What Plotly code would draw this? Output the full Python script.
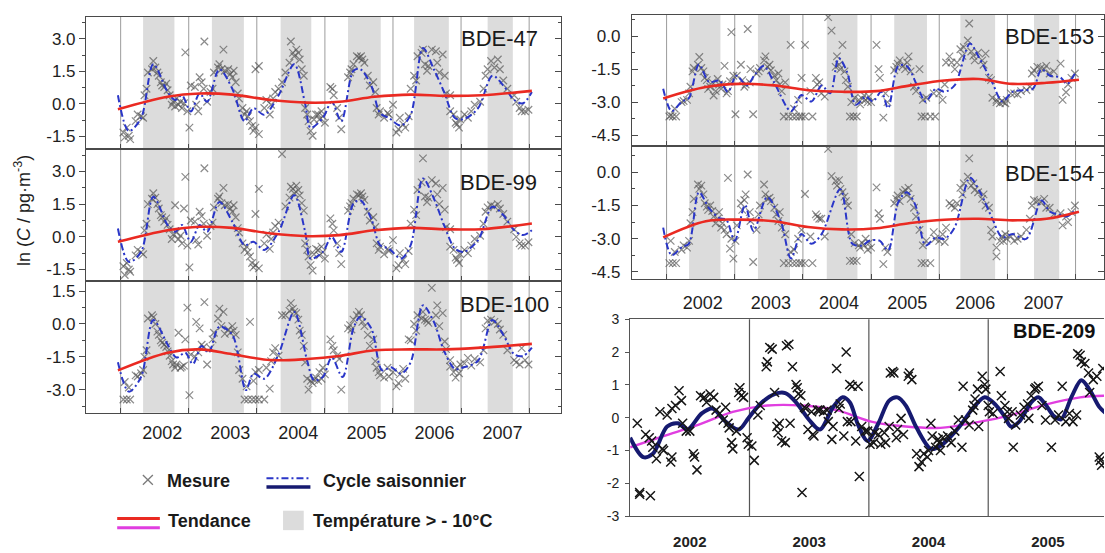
import plotly.graph_objects as go

W, H = 1105, 553

# ---------------------------------------------------------------- data
YEARS = [2002, 2003, 2004, 2005, 2006, 2007]
YEAR_LINES = [2002, 2003, 2004, 2005, 2006, 2007, 2008]
WARM_START = [2002.33, 2003.34, 2004.35, 2005.34, 2006.31, 2007.39]
WARM_END = [2002.79, 2003.81, 2004.80, 2005.82, 2006.82, 2007.76]

YEARS_209 = [2002, 2003, 2004, 2005]
YEAR_LINES_209 = [2003, 2004, 2005]

# weekly air samples (decimal year), shared by BDE-47/99/100/153/154
T_SAMPLE = [
    2002.04, 2002.06, 2002.09, 2002.12, 2002.14, 2002.22, 2002.25, 2002.30, 2002.33, 2002.35,
    2002.38, 2002.40, 2002.46, 2002.48, 2002.51, 2002.54, 2002.56, 2002.59, 2002.61, 2002.64,
    2002.67, 2002.69, 2002.72, 2002.75, 2002.77, 2002.80, 2002.82, 2002.85, 2002.88, 2002.90,
    2002.93, 2002.95, 2002.98, 2003.01, 2003.03, 2003.09, 2003.11, 2003.14, 2003.16, 2003.19,
    2003.22, 2003.23, 2003.27, 2003.32, 2003.35, 2003.37, 2003.43, 2003.45, 2003.48, 2003.51,
    2003.53, 2003.58, 2003.61, 2003.64, 2003.66, 2003.69, 2003.72, 2003.74, 2003.79, 2003.82,
    2003.85, 2003.87, 2003.90, 2003.93, 2003.95, 2003.98, 2003.98, 2004.03, 2004.03, 2004.11,
    2004.14, 2004.19, 2004.21, 2004.24, 2004.27, 2004.32, 2004.37, 2004.42, 2004.48, 2004.50,
    2004.53, 2004.55, 2004.58, 2004.61, 2004.63, 2004.66, 2004.69, 2004.71, 2004.74, 2004.76,
    2004.79, 2004.82, 2004.84, 2004.87, 2004.90, 2004.92, 2004.95, 2004.97, 2005.00, 2005.08,
    2005.11, 2005.13, 2005.18, 2005.21, 2005.24, 2005.34, 2005.37, 2005.39, 2005.42, 2005.47,
    2005.50, 2005.53, 2005.55, 2005.58, 2005.63, 2005.66, 2005.71, 2005.74, 2005.76, 2005.79,
    2005.81, 2005.87, 2005.92, 2005.94, 2006.00, 2006.05, 2006.08, 2006.10, 2006.15, 2006.18,
    2006.23, 2006.26, 2006.31, 2006.34, 2006.36, 2006.42, 2006.44, 2006.47, 2006.50, 2006.52,
    2006.57, 2006.63, 2006.65, 2006.68, 2006.73, 2006.76, 2006.78, 2006.84, 2006.84, 2006.89,
    2006.92, 2006.94, 2006.97, 2006.99, 2007.05, 2007.10, 2007.15, 2007.20, 2007.28, 2007.33,
    2007.36, 2007.39, 2007.44, 2007.49, 2007.54, 2007.57, 2007.62, 2007.68, 2007.78, 2007.81,
    2007.86, 2007.89, 2007.94, 2007.99,
]
V_BDE47 = [
    -1.32, -1.54, -1.09, -1.47, -1.62, -0.79, -0.49, -0.57, -0.64, 0.40,
    0.70, 1.45, 1.60, 1.98, 1.68, 1.45, 1.30, 1.00, 0.85, 0.78,
    0.93, 0.63, 0.40, -0.04, 0.10, -0.12, 0.25, -0.04, 0.10, -0.19,
    0.03, 2.38, -0.34, -1.09, 0.85, 0.78, -0.04, -0.34, 1.23, 1.00,
    0.70, 2.88, 0.10, 0.55, 0.70, 1.45, 1.68, 1.83, 1.60, 2.50,
    1.53, 1.60, 1.38, 1.23, 1.53, 1.00, 0.48, 0.25, -0.19, -0.49,
    -0.34, -0.57, -0.79, -1.02, -1.24, 1.60, -1.09, 1.75, -1.39, -0.19,
    0.18, -0.49, -0.04, 0.25, 0.55, 0.70, 1.00, 1.45, 1.90, 2.88,
    2.35, 2.20, 2.50, 2.35, 2.05, 1.60, 1.30, -0.19, -0.49, -0.79,
    -1.24, -1.47, -0.72, -0.49, -0.49, -0.72, -0.34, -0.57, -0.87, 0.78,
    0.70, 0.40, -0.19, -0.64, -1.17, 1.23, 1.45, 1.60, 1.83, 2.20,
    2.13, 2.20, 2.05, 1.90, 1.30, 0.85, 1.00, 0.55, -0.19, -0.49,
    -0.34, -0.64, -0.42, -0.49, -0.04, -1.32, -1.17, -0.64, -0.94, -1.09,
    -0.57, 0.70, 1.30, 1.08, 2.20, 2.35, 2.50, 1.83, 1.53, 1.75,
    2.50, 2.43, 1.90, 1.45, 2.28, 1.30, 0.48, 0.40, -0.34, -0.49,
    -0.87, -0.94, -1.09, -0.72, -0.49, -0.64, -0.34, -0.04, 0.10, 0.70,
    1.30, 1.60, 1.98, 1.68, 2.05, 1.60, 1.08, 0.70, 0.40, 0.10,
    -0.19, -0.34, -0.34, -0.27,
]
V_BDE99 = [
    -1.35, -1.75, -1.2, -1.5, -1.6, -0.85, -0.6, -0.7, -0.8, 0.3,
    0.6, 1.5, 1.75, 2.0, 1.8, 1.5, 1.3, 1.0, 0.9, 0.7,
    0.85, 0.55, 0.35, -0.1, 0.1, 1.45, 0.2, -0.1, 0.05, -0.3,
    1.3, 2.75, -0.4, -1.4, 0.75, 0.7, -0.15, -0.35, 1.15, 0.95,
    0.6, 3.15, 0.05, 0.5, 0.65, 1.35, 1.75, 1.85, 1.55, 2.25,
    1.45, 1.5, 1.3, 1.15, 1.45, 0.9, 0.4, 0.2, -0.3, -0.6,
    -0.45, -0.7, -0.9, -1.2, -1.4, 1.05, -1.3, 2.2, -1.45, -0.3,
    0.1, -0.55, -0.1, 0.2, 0.5, 0.65, 3.8, 1.4, 1.8, 2.3,
    2.2, 2.0, 2.35, 2.15, 1.9, 1.55, 1.2, -0.3, -0.6, -0.9,
    -1.3, -1.55, -0.8, -0.55, -0.6, -0.85, -0.45, -0.7, -1.0, 0.85,
    0.6, 0.3, -0.3, -0.75, -1.25, 1.2, 1.4, 1.55, 1.75, 1.95,
    1.9, 2.0, 1.85, 1.7, 1.15, 0.75, 0.9, 0.45, -0.3, -0.6,
    -0.45, -0.8, -0.55, -0.65, -0.15, -1.45, -1.3, -0.75, -1.05, -1.25,
    -0.65, 0.6, 1.25, 1.0, 2.15, 2.5, 3.6, 1.85, 1.6, 1.8,
    2.6, 2.45, 1.95, 1.5, 2.25, 1.25, 0.45, 0.35, -0.45, -0.6,
    -0.95, -1.05, -1.2, -0.8, -0.6, -0.75, -0.4, -0.1, 0.05, 0.6,
    1.15, 1.35, 1.45, 1.4, 1.5, 1.3, 1.05, 0.7, 0.35, 0.0,
    -0.3, -0.4, -0.4, -0.25,
]
V_BDE100 = [
    -3.45, -2.65, -3.45, -2.9, -3.45, -2.35, -2.4, -2.25, -2.1, -1.5,
    -1.2, 0.25, 0.4, 0.3, 0.0, -0.35, -0.5, -0.75, -0.85, -0.95,
    -1.05, -1.25, -1.45, -1.7, -1.85, -2.0, -1.85, -0.4, -2.0, -1.95,
    -1.9, -0.7, 0.75, -3.25, -1.4, -1.5, 0.1, -1.3, -0.2, -0.95,
    -1.05, 1.0, -1.85, -1.1, -0.7, -0.4, 0.25, 0.7, -0.1, 0.55,
    -0.45, -0.25, -0.4, -0.1, -0.3, -0.5, -1.3, -2.1, -2.5, -3.45,
    -2.85, -3.45, 0.1, -3.45, -2.6, -3.45, -2.2, -3.45, -2.1, -3.45,
    -2.0, -2.95, -1.7, -1.3, -1.1, -1.45, 0.4, 0.4, 0.6, 0.95,
    0.7, 0.55, 0.5, 0.2, -0.3, -0.5, -1.0, -1.75, -2.5, -3.0,
    -2.6, -2.7, -2.55, -2.45, -2.6, -2.2, -2.5, -2.0, -2.3, -0.7,
    -1.0, -1.2, -1.45, -1.6, -3.0, -0.2, -0.05, -0.25, 0.2, 0.4,
    0.55, 0.4, 0.1, -0.1, -0.5, -1.0, -0.7, -1.7, -2.0, -2.2,
    -2.35, -2.45, -2.0, -2.4, -2.2, -2.85, -2.7, -2.3, -2.05, -2.5,
    -0.7, -0.75, 0.0, -0.3, 0.4, 0.25, 0.55, 0.2, 0.15, 0.05,
    1.65, 0.4, 0.85, -0.1, 0.5, -0.8, -1.15, -1.65, -1.95, -2.2,
    -2.45, -2.0, -2.25, -1.85, -1.8, -1.55, -1.9, -1.6, -1.75, -1.2,
    -0.2, 0.15, 0.2, 0.1, 0.0, -0.25, -0.5, -1.2, -1.65, -1.75,
    -1.85, -1.1, -1.65, -1.85,
]
V_BDE153 = [
    -3.65, -3.6, -3.65, -3.3, -3.65, -3.0, -2.95, -2.9, -2.6, -2.3,
    -1.6, -1.45, -1.3, -0.95, -1.45, -1.6, -1.9, -2.0, -2.4, -2.3,
    -2.1, -2.7, -2.5, -1.95, -2.2, -2.4, -2.2, -1.35, -2.6, -2.5,
    -2.05, 0.18, -1.8, -3.55, -1.8, -1.3, -2.0, -2.3, -2.2, 0.32,
    -2.1, -1.5, -3.55, -1.7, -1.6, -1.45, -1.1, -0.92, -1.4, -1.3,
    -1.55, -1.8, -2.0, -1.7, -2.2, -2.5, -3.65, -2.1, -3.65, -0.4,
    -3.65, -3.3, -3.65, -2.9, -3.65, -1.9, -3.65, -0.4, -3.65, -2.5,
    -3.65, -1.9, -2.2, -2.1, -2.6, -2.75, 0.86, 0.25, -1.4, -0.92,
    -1.3, -1.5, -0.4, -1.6, -2.0, -2.3, -3.65, -3.0, -3.65, -2.8,
    -3.65, -2.9, -3.1, -2.85, -2.7, -2.9, -3.0, -2.75, -3.0, -0.4,
    -1.5, -1.9, -3.7, -2.6, -3.0, -1.55, -1.4, -1.25, -1.1, -1.35,
    -1.5, -1.2, -0.92, -1.6, -2.3, -2.5, -1.5, -3.65, -2.9, -3.65,
    -2.8, -3.65, -2.6, -3.65, -2.6, -2.9, -2.2, -1.2, -0.92, -1.2,
    -1.5, -1.2, -0.6, -0.9, -0.5, -0.2, 0.57, -0.7, -0.9, -1.1,
    -0.75, -1.1, -1.3, -0.8, -1.9, -2.0, -2.8, -2.9, -3.0, -3.05,
    -2.95, -3.0, -3.05, -2.9, -2.6, -2.6, -2.65, -2.5, -2.45, -2.3,
    -1.7, -1.55, -1.4, -1.45, -1.5, -1.35, -1.7, -1.6, -1.25, -2.9,
    -2.55, -2.2, -1.9, -1.7,
]
V_BDE154 = [
    -4.1, -3.1, -4.1, -3.6, -4.1, -3.5, -3.3, -3.4, -3.1, -2.3,
    -1.8, -1.2, -0.55, -0.75, -0.6, -1.0, -1.4, -1.55, -1.7, -1.5,
    -1.75, -2.0, -2.3, -2.1, -1.8, -2.5, -2.3, -2.6, -2.8, -0.25,
    -3.45, -3.0, -3.9, -3.1, -2.4, -1.4, -1.7, -1.25, -1.0, -0.1,
    -1.8, -2.2, -4.05, -2.6, -1.9, -1.5, -0.55, -1.0, -1.2, -1.15,
    -1.3, -1.6, -1.9, -2.2, -1.8, -2.5, -4.1, -2.8, -4.1, -3.6,
    -4.1, -3.5, -4.1, -3.0, -4.1, -2.6, -4.1, -0.98, -4.1, -2.9,
    -4.1, -1.9, -2.0, -2.1, -2.1, -2.9, 1.06, -0.17, -0.4, -0.6,
    -0.35, -0.75, -0.9, -1.1, -1.3, -1.5, -4.0, -2.8, -4.0, -3.2,
    -4.0, -3.3, -3.4, -3.2, -3.3, -3.0, -3.5, -3.2, -3.4, -0.68,
    -1.85, -2.1, -4.15, -3.4, -3.6, -1.4, -1.2, -1.05, -1.3, -0.9,
    -0.8, -1.0, -0.7, -1.2, -1.6, -2.0, -2.6, -4.1, -3.3, -4.1,
    -3.1, -4.1, -2.7, -3.0, -3.1, -2.8, -3.15, -2.5, -1.4, -1.5,
    -1.6, -1.4, -0.7, -1.0, -0.5, -0.2, 0.63, -0.6, -0.5, -0.8,
    -0.9, -1.2, -1.0, -1.5, -1.6, -2.6, -2.9, -3.4, -3.8, -3.1,
    -2.9, -3.1, -2.8, -3.0, -2.9, -3.1, -3.0, -2.9, -2.6, -2.1,
    -1.5, -1.25, -1.3, -1.35, -1.2, -1.6, -1.6, -1.9, -1.85, -2.4,
    -2.0, -2.25, -1.8, -1.5,
]

# seasonal cycle (knots of the fitted curve)
CYC_L_T = [
    2001.96, 2002.12, 2002.30, 2002.48, 2002.69, 2002.80, 2002.90, 2003.03, 2003.16, 2003.27,
    2003.45, 2003.64, 2003.82, 2003.95, 2004.11, 2004.32, 2004.55, 2004.71, 2004.79, 2004.97,
    2005.10, 2005.24, 2005.42, 2005.52, 2005.68, 2005.81, 2005.94, 2006.12, 2006.26, 2006.44,
    2006.60, 2006.75, 2006.91, 2007.04, 2007.25, 2007.46, 2007.62, 2007.78, 2007.91, 2008.04,
]
CYC47_V = [
    0.4, -1.25, -0.65, 1.83, 0.55, 0.18, 0.4, -0.35, 0.48, 0.1,
    1.6, 0.7, -0.8, -0.2, -0.5, 0.4, 1.83, 0.0, -1.1, -0.65,
    0.1, -0.8, 1.53, 1.6, 0.85, -0.42, -0.65, -1.0, -0.5, 2.58,
    1.6, 0.55, -0.65, -0.7, -0.2, 1.3, 0.85, 0.18, 0.03, 0.55,
]
CYC99_V = [
    0.38, -1.15, -0.69, 1.84, 0.54, 0.23, 0.54, -0.23, 0.54, 0.23,
    1.6, 0.69, -0.38, -0.23, -0.6, 0.23, 1.91, 0.23, -1.0, -0.69,
    0.0, -0.69, 1.53, 1.68, 0.84, -0.38, -0.54, -1.0, -0.38, 2.68,
    1.76, 0.54, -0.54, -0.69, -0.15, 1.38, 1.0, 0.3, 0.08, 0.3,
]
CYC100_T = [
    2001.96, 2002.12, 2002.30, 2002.48, 2002.69, 2002.82, 2002.95, 2003.06, 2003.19, 2003.29,
    2003.45, 2003.64, 2003.84, 2003.95, 2004.11, 2004.32, 2004.55, 2004.74, 2004.84, 2004.97,
    2005.10, 2005.26, 2005.42, 2005.52, 2005.68, 2005.84, 2005.97, 2006.12, 2006.26, 2006.44,
    2006.60, 2006.75, 2006.91, 2007.04, 2007.25, 2007.46, 2007.62, 2007.78, 2007.91, 2008.04,
]
CYC100_V = [
    -1.75, -3.09, -2.42, 0.18, -0.94, -1.53, -1.31, -1.83, -1.01, -1.31,
    -0.12, -0.49, -3.02, -2.27, -2.5, -1.38, 0.55, -1.68, -2.57, -2.42,
    -1.53, -2.42, -0.19, 0.33, -0.19, -2.12, -1.98, -2.27, -1.75, 0.85,
    0.1, -1.23, -2.05, -1.98, -1.68, 0.18, -0.49, -1.38, -1.46, -1.08,
]
CYC153_T = [
    2001.95, 2002.075, 2002.225, 2002.325, 2002.475, 2002.625, 2002.775, 2002.90, 2003.025, 2003.175,
    2003.30, 2003.425, 2003.575, 2003.825, 2003.975, 2004.125, 2004.275, 2004.40, 2004.525, 2004.65,
    2004.775, 2004.925, 2005.025, 2005.15, 2005.25, 2005.40, 2005.525, 2005.675, 2005.80, 2005.95,
    2006.075, 2006.225, 2006.45, 2006.575, 2006.775, 2006.925, 2007.075, 2007.225, 2007.375, 2007.50,
    2007.625, 2007.775, 2007.875, 2008.00,
]
CYC153_V = [
    -2.39, -3.41, -2.97, -2.83, -1.29, -2.09, -2.02, -2.53, -1.8, -2.24,
    -1.73, -1.36, -2.09, -3.41, -2.68, -2.97, -2.24, -2.6, -1.0, -1.65,
    -3.12, -2.75, -2.97, -2.53, -3.27, -1.36, -1.36, -2.24, -2.97, -2.39,
    -2.53, -2.24, -0.34, -0.92, -2.09, -2.97, -2.53, -2.46, -2.39, -1.51,
    -1.8, -1.87, -2.17, -1.65,
]
CYC154_T = [
    2001.95, 2002.075, 2002.225, 2002.325, 2002.475, 2002.625, 2002.775, 2002.875, 2003.00, 2003.15,
    2003.275, 2003.475, 2003.675, 2003.825, 2003.975, 2004.125, 2004.275, 2004.55, 2004.725, 2004.875,
    2004.975, 2005.125, 2005.25, 2005.40, 2005.525, 2005.65, 2005.80, 2005.95, 2006.075, 2006.225,
    2006.45, 2006.60, 2006.775, 2006.925, 2007.075, 2007.275, 2007.50, 2007.625, 2007.775, 2007.875,
    2008.00,
]
CYC154_V = [
    -2.5, -3.74, -3.38, -3.23, -0.9, -1.63, -2.07, -2.14, -3.09, -1.48,
    -2.65, -1.12, -2.21, -3.89, -2.79, -3.23, -2.79, -0.76, -3.23, -3.3,
    -3.09, -3.09, -3.52, -1.34, -0.9, -1.48, -3.3, -2.94, -3.01, -2.5,
    -0.25, -0.9, -2.07, -2.94, -2.79, -3.01, -1.27, -1.78, -1.92, -1.99,
    -1.7,
]

# long-term trend (knots)
TR_L_T = [2001.96, 2002.69, 2003.16, 2003.64, 2004.21, 2004.74, 2005.21, 2005.73, 2006.26, 2006.78, 2007.30, 2008.04]
TR47_V = [-0.25, 0.33, 0.48, 0.43, 0.18, 0.06, 0.10, 0.33, 0.43, 0.37, 0.40, 0.60]
TR99_V = [-0.23, 0.30, 0.46, 0.41, 0.15, 0.03, 0.08, 0.30, 0.41, 0.35, 0.35, 0.61]
TR100_V = [-2.12, -1.31, -1.16, -1.38, -1.65, -1.60, -1.46, -1.20, -1.16, -1.16, -1.08, -0.91]
TR_R_T = [2001.95, 2002.575, 2003.075, 2003.575, 2004.075, 2004.575, 2005.075, 2005.575, 2006.075, 2006.575, 2007.075, 2007.575, 2008.05]
TR153_V = [-2.83, -2.31, -2.17, -2.24, -2.46, -2.53, -2.50, -2.24, -2.02, -1.95, -2.17, -2.12, -1.98]
TR154_V = [-2.94, -2.21, -2.14, -2.21, -2.47, -2.58, -2.53, -2.29, -2.14, -2.10, -2.17, -2.10, -1.78]

# BDE-209
T_209 = [
    2002.06, 2002.08, 2002.08, 2002.13, 2002.16, 2002.17, 2002.18, 2002.19, 2002.22, 2002.25,
    2002.27, 2002.28, 2002.31, 2002.34, 2002.35, 2002.35, 2002.38, 2002.41, 2002.43, 2002.44,
    2002.47, 2002.50, 2002.53, 2002.54, 2002.56, 2002.59, 2002.62, 2002.64, 2002.67, 2002.70,
    2002.72, 2002.75, 2002.78, 2002.80, 2002.82, 2002.83, 2002.85, 2002.86, 2002.89, 2002.91,
    2002.92, 2002.93, 2002.95, 2002.98, 2002.99, 2003.02, 2003.04, 2003.07, 2003.09, 2003.14,
    2003.15, 2003.17, 2003.19, 2003.21, 2003.23, 2003.24, 2003.25, 2003.27, 2003.30, 2003.31,
    2003.33, 2003.34, 2003.36, 2003.39, 2003.40, 2003.41, 2003.43, 2003.44, 2003.46, 2003.47,
    2003.49, 2003.52, 2003.53, 2003.54, 2003.57, 2003.59, 2003.62, 2003.65, 2003.66, 2003.69,
    2003.70, 2003.73, 2003.75, 2003.76, 2003.79, 2003.81, 2003.82, 2003.84, 2003.85, 2003.86,
    2003.89, 2003.91, 2003.92, 2003.94, 2003.97, 2003.99, 2004.01, 2004.04, 2004.05, 2004.08,
    2004.10, 2004.13, 2004.14, 2004.17, 2004.18, 2004.20, 2004.21, 2004.23, 2004.24, 2004.27,
    2004.29, 2004.33, 2004.34, 2004.36, 2004.40, 2004.42, 2004.44, 2004.46, 2004.49, 2004.50,
    2004.52, 2004.53, 2004.56, 2004.58, 2004.59, 2004.60, 2004.62, 2004.66, 2004.69, 2004.72,
    2004.75, 2004.78, 2004.79, 2004.81, 2004.84, 2004.87, 2004.88, 2004.89, 2004.91, 2004.92,
    2004.95, 2004.97, 2004.98, 2005.00, 2005.01, 2005.04, 2005.10, 2005.11, 2005.14, 2005.16,
    2005.17, 2005.20, 2005.21, 2005.23, 2005.27, 2005.30, 2005.33, 2005.34, 2005.36, 2005.39,
    2005.40, 2005.42, 2005.45, 2005.48, 2005.53, 2005.56, 2005.59, 2005.62, 2005.65, 2005.68,
    2005.71, 2005.74, 2005.75, 2005.77, 2005.78, 2005.81, 2005.84, 2005.85, 2005.88, 2005.91,
    2005.93, 2005.94, 2005.95, 2005.96,
]
V_209 = [
    -0.17, -2.28, -2.33, -0.51, -0.61, -2.38, -0.71, -0.90, -1.25, 0.18,
    -0.95, -1.00, 0.08, -1.35, -1.20, 0.28, 0.37, 0.82, 0.52, -0.17,
    -0.41, -0.41, -1.10, -1.20, -1.59, 0.67, 0.62, 0.47, 0.72, 0.62,
    0.23, 0.13, -0.07, 0.32, -0.17, -0.31, -0.76, -0.95, -0.41, 0.77,
    0.91, 0.67, 0.62, -0.61, -0.81, -0.86, -1.30, 0.08, 0.37, 1.55,
    1.70, 2.14, 2.09, 0.77, -0.27, -0.46, -0.17, -0.71, -0.76, 2.19,
    2.24, -0.17, 1.55, 1.01, 0.91, 0.72, 0.67, -2.28, 0.32, 0.28,
    -0.36, 0.18, -0.51, -0.56, 0.23, 0.23, 0.18, 0.23, -0.12, -0.66,
    -0.27, 1.50, 0.28, 0.42, -0.56, 2.00, -0.12, 1.01, -0.12, 0.96,
    -0.71, 0.96, -1.79, -0.27, -0.41, -0.41, -0.81, -0.76, -0.46, -0.51,
    -0.81, -0.46, -0.76, -0.27, 1.36, 1.41, 1.36, -0.61, -0.36, -0.02,
    -0.51, 1.26, 1.36, 1.16, -1.10, -1.49, -1.35, -1.10, -1.20, -1.00,
    -0.17, -0.56, -0.90, -0.66, -0.76, -1.00, -0.61, -0.56, -0.76, -0.41,
    -0.07, -0.90, 0.96, -0.07, -0.22, 0.23, 0.37, 0.57, 0.87, -0.27,
    1.26, 1.01, 0.87, 0.37, 0.18, 0.13, 1.41, 0.67, 0.37, 0.18,
    -0.02, 0.18, -0.90, -0.22, 0.08, 0.32, 0.42, -0.02, 0.67, 0.87,
    0.91, 0.96, 0.37, -0.07, -0.90, -0.07, 0.08, 0.96, -0.12, 0.13,
    -0.12, 0.08, 1.95, 1.90, 1.70, 1.65, 1.36, 0.77, 1.16, 1.26,
    -1.20, -1.30, -1.45, 1.50,
]
CYC209_T = [
    2002.00, 2002.11, 2002.19, 2002.31, 2002.40, 2002.48, 2002.60, 2002.69, 2002.80, 2002.91,
    2002.99, 2003.09, 2003.21, 2003.30, 2003.39, 2003.50, 2003.59, 2003.70, 2003.78, 2003.84,
    2003.91, 2003.99, 2004.08, 2004.17, 2004.24, 2004.31, 2004.40, 2004.52, 2004.60, 2004.75,
    2004.87, 2004.97, 2005.04, 2005.13, 2005.19, 2005.26, 2005.36, 2005.42, 2005.48, 2005.55,
    2005.61, 2005.70, 2005.78, 2005.85, 2005.93, 2005.98,
]
CYC209_V = [
    -0.61, -1.20, -1.10, -0.27, -0.17, -0.36, 0.13, 0.28, -0.12, -0.36,
    -0.02, 0.42, 0.72, 0.75, 0.47, -0.07, -0.36, 0.32, 0.62, 0.47,
    -0.22, -0.71, -0.17, 0.52, 0.62, 0.37, -0.31, -0.95, -0.86, -0.31,
    0.28, 0.62, 0.47, 0.08, -0.27, -0.12, 0.47, 0.62, 0.40, 0.05,
    -0.05, 0.65, 1.14, 0.85, 0.33, 0.15,
]
TR209_T = [2002.00, 2002.28, 2002.57, 2002.86, 2003.15, 2003.44, 2003.73, 2004.02, 2004.31, 2004.60, 2004.89, 2005.19, 2005.48, 2005.77, 2005.98]
TR209_V = [-0.90, -0.56, -0.22, 0.18, 0.37, 0.37, 0.23, -0.12, -0.27, -0.31, -0.15, 0.08, 0.40, 0.62, 0.67]

Y_MAJOR = [-4.5, -3.0, -1.5, 0.0, 1.5, 3.0]
Y_MINOR = [-3.75, -2.25, -0.75, 0.75, 2.25, 3.75]
Y209_TICKS = [-3, -2, -1, 0, 1, 2, 3]

# ---------------------------------------------------------------- style
FONT = "Liberation Sans, Arial, Helvetica, sans-serif"
AXC = "#4a4a4a"
SCAT = "rgba(85,85,85,0.68)"
BLUE = "#2a36c8"
RED = "#ea2a22"
NAVY = "#161a70"
MAGENTA = "#e03ee0"
SHADE = "#dcdcdc"
GRIDC = "#9c9c9c"


def fx(p):
    return p / W


def fy(p):
    return 1 - p / H


LEFT_X = (86, 562)
RIGHT_X = (632.4, 1104.5)

panels = [
    dict(t=T_SAMPLE, v=V_BDE47, ct=CYC_L_T, cv=CYC47_V, tt=TR_L_T, tv=TR47_V, side="L",
         ypx=(9, 145), yr=(-2.07, 4.02), name="BDE-47", lab=(540, 31.7), xlab=False),
    dict(t=T_SAMPLE, v=V_BDE99, ct=CYC_L_T, cv=CYC99_V, tt=TR_L_T, tv=TR99_V, side="L",
         ypx=(145, 281), yr=(-2.02, 4.04), name="BDE-99", lab=(539, 180), xlab=False),
    dict(t=T_SAMPLE, v=V_BDE100, ct=CYC100_T, cv=CYC100_V, tt=TR_L_T, tv=TR100_V, side="L",
         ypx=(281, 416.7), yr=(-4.05, 1.97), name="BDE-100", lab=(551, 305), xlab=True),
    dict(t=T_SAMPLE, v=V_BDE153, ct=CYC153_T, cv=CYC153_V, tt=TR_R_T, tv=TR153_V, side="R",
         ypx=(6.7, 142.3), yr=(-5.0, 0.98), name="BDE-153", lab=(1097, 29), xlab=False),
    dict(t=T_SAMPLE, v=V_BDE154, ct=CYC154_T, cv=CYC154_V, tt=TR_R_T, tv=TR154_V, side="R",
         ypx=(142.3, 279.3), yr=(-4.83, 1.18), name="BDE-154", lab=(1097, 170), xlab=True),
]

fig = go.Figure()
layout = dict(
    width=W, height=H, margin=dict(l=0, r=0, t=0, b=0, pad=0),
    paper_bgcolor="white", plot_bgcolor="white", showlegend=False,
    font=dict(family=FONT, color="#1e1e1e"),
)
shapes = []
annotations = []

for k, p in enumerate(panels, start=1):
    xa = "x" if k == 1 else f"x{k}"
    ya = "y" if k == 1 else f"y{k}"
    xdom = LEFT_X if p["side"] == "L" else RIGHT_X
    xrange = [2001.49, 2008.475] if p["side"] == "L" else [2001.49, 2008.41]
    lab_off = 0.61 if p["side"] == "L" else 0.53

    fig.add_trace(go.Scatter(x=p["t"], y=p["v"], xaxis=xa, yaxis=ya, mode="markers",
                             marker=dict(symbol="x-thin", size=7.5,
                                         line=dict(color=SCAT, width=1.2)),
                             cliponaxis=True, hoverinfo="skip"))
    fig.add_trace(go.Scatter(x=p["ct"], y=p["cv"], xaxis=xa, yaxis=ya, mode="lines",
                             line=dict(color=BLUE, width=2, dash="7px,3px,2px,3px",
                                       shape="spline", smoothing=0.9),
                             hoverinfo="skip"))
    fig.add_trace(go.Scatter(x=p["tt"], y=p["tv"], xaxis=xa, yaxis=ya, mode="lines",
                             line=dict(color=RED, width=2.6, shape="spline", smoothing=1.0),
                             hoverinfo="skip"))

    layout["xaxis" if k == 1 else f"xaxis{k}"] = dict(
        domain=[fx(xdom[0]), fx(xdom[1])], range=xrange, anchor=ya,
        showline=True, linecolor=AXC, linewidth=1, mirror=True,
        showgrid=False, zeroline=False,
        tickmode="array", tickvals=[y + lab_off for y in YEARS], ticktext=[str(y) for y in YEARS],
        ticks="", showticklabels=p["xlab"],
        ticklabelstandoff=4 if p["side"] == "L" else 7,
        tickfont=dict(size=18, color="#1e1e1e", family=FONT),
        minor=dict(tickmode="array", tickvals=YEAR_LINES, ticks="inside", ticklen=5,
                   tickcolor=AXC, tickwidth=1, showgrid=False),
    )
    y_top, y_bot = p["ypx"]
    ydict = dict(
        domain=[fy(y_bot), fy(y_top)], range=list(p["yr"]), anchor=xa,
        showline=True, linecolor=AXC, linewidth=1,
        showgrid=False, zeroline=False,
        tickmode="array", tickvals=Y_MAJOR, ticktext=[f"{v:.1f}" for v in Y_MAJOR],
        ticklen=6, tickcolor=AXC, tickwidth=1,
        tickfont=dict(size=17, color="#1e1e1e", family=FONT),
    )
    if p["side"] == "L":
        ydict.update(ticks="outside", mirror=True,
                     minor=dict(tickmode="array", tickvals=Y_MINOR, ticks="outside",
                                ticklen=3, tickcolor=AXC, showgrid=False))
    else:
        ydict.update(ticks="inside", mirror="ticks", ticklabelstandoff=7,
                     minor=dict(tickmode="array", tickvals=Y_MINOR, ticks="inside",
                                ticklen=3, tickcolor=AXC, showgrid=False))
    layout["yaxis" if k == 1 else f"yaxis{k}"] = ydict

    if p["side"] == "L":
        # inward ticks on the right frame of the left panels
        oid = k + 6
        layout[f"yaxis{oid}"] = dict(
            overlaying=ya, side="right", anchor=xa, range=list(p["yr"]),
            tickmode="array", tickvals=Y_MAJOR, ticks="inside", ticklen=6, tickcolor=AXC,
            showticklabels=False, showline=False, showgrid=False, zeroline=False,
            minor=dict(tickmode="array", tickvals=Y_MINOR, ticks="inside", ticklen=3,
                       tickcolor=AXC, showgrid=False),
        )
        fig.add_trace(go.Scatter(x=[None], y=[None], xaxis=xa, yaxis=f"y{oid}",
                                 mode="markers", hoverinfo="skip"))

    yref = f"{ya} domain"
    for s, e in zip(WARM_START, WARM_END):
        shapes.append(dict(type="rect", xref=xa, yref=yref, x0=s, x1=e, y0=0, y1=1,
                           fillcolor=SHADE, line=dict(width=0), layer="below"))
    for yl in YEAR_LINES:
        shapes.append(dict(type="line", xref=xa, yref=yref, x0=yl, x1=yl, y0=0, y1=1,
                           line=dict(color=GRIDC, width=1), layer="below"))

    annotations.append(dict(text=p["name"], xref="paper", yref="paper",
                            x=fx(p["lab"][0]), y=fy(p["lab"][1]), xanchor="right",
                            yanchor="middle", showarrow=False,
                            font=dict(size=22, color="#1a1a1a", family=FONT)))

# ---------------------------------------------------------------- BDE-209 panel
fig.add_trace(go.Scatter(x=TR209_T, y=TR209_V, xaxis="x6", yaxis="y6", mode="lines",
                         line=dict(color=MAGENTA, width=2.4, shape="spline", smoothing=1.0),
                         hoverinfo="skip"))
fig.add_trace(go.Scatter(x=CYC209_T, y=CYC209_V, xaxis="x6", yaxis="y6", mode="lines",
                         line=dict(color=NAVY, width=4, shape="spline", smoothing=0.9),
                         hoverinfo="skip"))
fig.add_trace(go.Scatter(x=T_209, y=V_209, xaxis="x6", yaxis="y6", mode="markers",
                         marker=dict(symbol="x-thin", size=9,
                                     line=dict(color="#161616", width=1.5)),
                         cliponaxis=True, hoverinfo="skip"))

layout["xaxis6"] = dict(
    domain=[fx(630.7), 1.0], range=[2002.0, 2005.97], anchor="y6",
    showline=True, linecolor="#555555", linewidth=1.2, mirror=True,
    showgrid=False, zeroline=False,
    tickmode="array", tickvals=[y + 0.5 for y in YEARS_209],
    ticktext=[f"<b>{y}</b>" for y in YEARS_209], ticks="", ticklabelstandoff=12,
    tickfont=dict(size=15, color="#222222", family=FONT),
)
layout["yaxis6"] = dict(
    domain=[fy(523.3), fy(320.5)], range=[-3, 3], anchor="x6",
    showline=True, linecolor="#555555", linewidth=1.2, mirror=False,
    showgrid=False, zeroline=False,
    tickmode="array", tickvals=Y209_TICKS, ticktext=[str(v) for v in Y209_TICKS],
    ticks="outside", ticklen=4, tickcolor="#555555", ticklabelstandoff=3,
    tickfont=dict(size=14, color="#222222", family=FONT),
)
for yl in YEAR_LINES_209:
    shapes.append(dict(type="line", xref="x6", yref="y6 domain", x0=yl, x1=yl, y0=0, y1=1,
                       line=dict(color="#555555", width=1.2), layer="below"))
annotations.append(dict(text="<b>BDE-209</b>", xref="paper", yref="paper",
                        x=fx(1098), y=fy(333), xanchor="right", yanchor="middle",
                        showarrow=False, font=dict(size=20, color="#111111", family=FONT)))

# ---------------------------------------------------------------- axis title
annotations.append(dict(text="ln (<i>C</i> / pg·m<sup>-3</sup>)", xref="paper", yref="paper",
                        x=fx(23), y=fy(208), textangle=-90, xanchor="center",
                        yanchor="middle", showarrow=False,
                        font=dict(size=18, color="#1e1e1e", family=FONT)))

# ---------------------------------------------------------------- legend
LEG_FONT = dict(size=18, color="#1a1a1a", family=FONT)
for (a, b, c, d) in [(143, 481, 153, 491), (143, 491, 153, 481)]:
    shapes.append(dict(type="line", xref="paper", yref="paper",
                       x0=fx(a), y0=fy(b), x1=fx(c), y1=fy(d),
                       line=dict(color="#7a7a7a", width=1.3)))
annotations.append(dict(text="<b>Mesure</b>", xref="paper", yref="paper", x=fx(165),
                        y=fy(487), xanchor="left", yanchor="middle", showarrow=False,
                        font=LEG_FONT))
shapes.append(dict(type="line", xref="paper", yref="paper", x0=fx(266.7), x1=fx(310.7),
                   y0=fy(484.3), y1=fy(484.3),
                   line=dict(color=BLUE, width=2, dash="7px,3px,2px,3px")))
shapes.append(dict(type="line", xref="paper", yref="paper", x0=fx(266.7), x1=fx(310.7),
                   y0=fy(493.3), y1=fy(493.3), line=dict(color=NAVY, width=3.5)))
annotations.append(dict(text="<b>Cycle saisonnier</b>", xref="paper", yref="paper",
                        x=fx(321), y=fy(487), xanchor="left", yanchor="middle",
                        showarrow=False, font=LEG_FONT))
shapes.append(dict(type="line", xref="paper", yref="paper", x0=fx(117.3), x1=fx(160),
                   y0=fy(525.7), y1=fy(525.7), line=dict(color=RED, width=3)))
shapes.append(dict(type="line", xref="paper", yref="paper", x0=fx(117.3), x1=fx(160),
                   y0=fy(535.3), y1=fy(535.3), line=dict(color=MAGENTA, width=3)))
annotations.append(dict(text="<b>Tendance</b>", xref="paper", yref="paper", x=fx(166),
                        y=fy(528.3), xanchor="left", yanchor="middle", showarrow=False,
                        font=LEG_FONT))
shapes.append(dict(type="rect", xref="paper", yref="paper", x0=fx(283.3), x1=fx(304),
                   y0=fy(537.7), y1=fy(517.7), fillcolor=SHADE, line=dict(width=0)))
annotations.append(dict(text="<b>Température > - 10°C</b>", xref="paper", yref="paper",
                        x=fx(311), y=fy(528.3), xanchor="left", yanchor="middle",
                        showarrow=False, font=LEG_FONT))

layout["shapes"] = shapes
layout["annotations"] = annotations
fig.update_layout(**layout)

# the page itself adds no margin around the 1105x553 figure; no toolbar
fig.write_html(
    "out.html",
    config={"displayModeBar": False},
    post_script="document.body.style.margin='0px';document.body.style.padding='0px';"
                "document.body.style.overflow='hidden';",
)
